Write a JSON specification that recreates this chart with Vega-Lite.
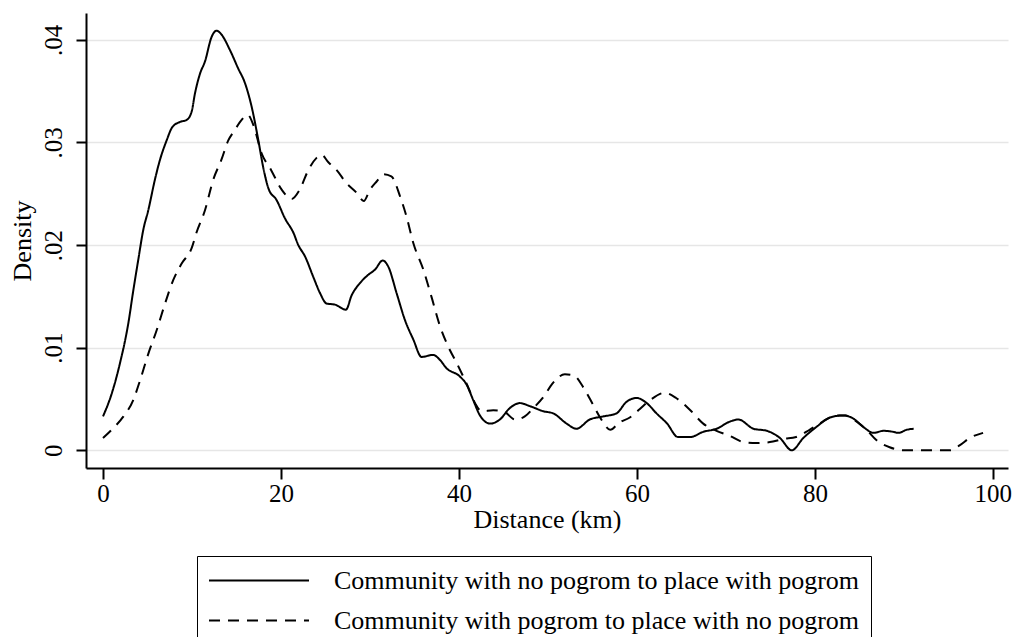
{
  "$schema": "https://vega.github.io/schema/vega-lite/v6.json",
  "width": 922,
  "height": 455,
  "autosize": {"type": "none"},
  "padding": {"left": 86, "top": 13, "right": 7, "bottom": 169},
  "background": "white",
  "config": {
    "view": {"stroke": null},
    "font": "Liberation Serif",
    "axis": {
      "labelFont": "Liberation Serif",
      "titleFont": "Liberation Serif",
      "labelColor": "black",
      "titleColor": "black",
      "titleFontWeight": "normal",
      "domainColor": "black",
      "domainWidth": 2,
      "tickColor": "black",
      "tickWidth": 2
    }
  },
  "datasets": {
    "curves": [
      {"km": 0, "density": 0.0033, "series": "Community with no pogrom to place with pogrom"},
      {"km": 0.97, "density": 0.0055, "series": "Community with no pogrom to place with pogrom"},
      {"km": 1.91, "density": 0.0085, "series": "Community with no pogrom to place with pogrom"},
      {"km": 2.85, "density": 0.0124, "series": "Community with no pogrom to place with pogrom"},
      {"km": 3.41, "density": 0.0156, "series": "Community with no pogrom to place with pogrom"},
      {"km": 3.97, "density": 0.0186, "series": "Community with no pogrom to place with pogrom"},
      {"km": 4.53, "density": 0.0215, "series": "Community with no pogrom to place with pogrom"},
      {"km": 5.09, "density": 0.0234, "series": "Community with no pogrom to place with pogrom"},
      {"km": 5.84, "density": 0.0264, "series": "Community with no pogrom to place with pogrom"},
      {"km": 6.4, "density": 0.0283, "series": "Community with no pogrom to place with pogrom"},
      {"km": 7.15, "density": 0.0302, "series": "Community with no pogrom to place with pogrom"},
      {"km": 7.79, "density": 0.0315, "series": "Community with no pogrom to place with pogrom"},
      {"km": 8.65, "density": 0.032, "series": "Community with no pogrom to place with pogrom"},
      {"km": 9.4, "density": 0.0322, "series": "Community with no pogrom to place with pogrom"},
      {"km": 9.96, "density": 0.033, "series": "Community with no pogrom to place with pogrom"},
      {"km": 10.34, "density": 0.0348, "series": "Community with no pogrom to place with pogrom"},
      {"km": 10.9, "density": 0.0367, "series": "Community with no pogrom to place with pogrom"},
      {"km": 11.46, "density": 0.0379, "series": "Community with no pogrom to place with pogrom"},
      {"km": 12.21, "density": 0.0403, "series": "Community with no pogrom to place with pogrom"},
      {"km": 12.77, "density": 0.0409, "series": "Community with no pogrom to place with pogrom"},
      {"km": 13.33, "density": 0.0405, "series": "Community with no pogrom to place with pogrom"},
      {"km": 14.27, "density": 0.039, "series": "Community with no pogrom to place with pogrom"},
      {"km": 15.2, "density": 0.0372, "series": "Community with no pogrom to place with pogrom"},
      {"km": 15.95, "density": 0.0358, "series": "Community with no pogrom to place with pogrom"},
      {"km": 16.7, "density": 0.0335, "series": "Community with no pogrom to place with pogrom"},
      {"km": 17.46, "density": 0.0302, "series": "Community with no pogrom to place with pogrom"},
      {"km": 18.0, "density": 0.0276, "series": "Community with no pogrom to place with pogrom"},
      {"km": 18.6, "density": 0.0255, "series": "Community with no pogrom to place with pogrom"},
      {"km": 19.5, "density": 0.0244, "series": "Community with no pogrom to place with pogrom"},
      {"km": 20.45, "density": 0.0226, "series": "Community with no pogrom to place with pogrom"},
      {"km": 21.4, "density": 0.0212, "series": "Community with no pogrom to place with pogrom"},
      {"km": 21.95, "density": 0.02, "series": "Community with no pogrom to place with pogrom"},
      {"km": 22.7, "density": 0.0189, "series": "Community with no pogrom to place with pogrom"},
      {"km": 23.63, "density": 0.0169, "series": "Community with no pogrom to place with pogrom"},
      {"km": 24.4, "density": 0.0153, "series": "Community with no pogrom to place with pogrom"},
      {"km": 25.13, "density": 0.0143, "series": "Community with no pogrom to place with pogrom"},
      {"km": 26.07, "density": 0.0142, "series": "Community with no pogrom to place with pogrom"},
      {"km": 27.3, "density": 0.0137, "series": "Community with no pogrom to place with pogrom"},
      {"km": 27.94, "density": 0.0151, "series": "Community with no pogrom to place with pogrom"},
      {"km": 28.88, "density": 0.0163, "series": "Community with no pogrom to place with pogrom"},
      {"km": 29.8, "density": 0.0171, "series": "Community with no pogrom to place with pogrom"},
      {"km": 30.56, "density": 0.0176, "series": "Community with no pogrom to place with pogrom"},
      {"km": 31.43, "density": 0.0185, "series": "Community with no pogrom to place with pogrom"},
      {"km": 32.06, "density": 0.0179, "series": "Community with no pogrom to place with pogrom"},
      {"km": 33.0, "density": 0.0153, "series": "Community with no pogrom to place with pogrom"},
      {"km": 33.93, "density": 0.0127, "series": "Community with no pogrom to place with pogrom"},
      {"km": 34.87, "density": 0.0108, "series": "Community with no pogrom to place with pogrom"},
      {"km": 35.8, "density": 0.0091, "series": "Community with no pogrom to place with pogrom"},
      {"km": 37.1, "density": 0.0093, "series": "Community with no pogrom to place with pogrom"},
      {"km": 37.87, "density": 0.0088, "series": "Community with no pogrom to place with pogrom"},
      {"km": 38.6, "density": 0.008, "series": "Community with no pogrom to place with pogrom"},
      {"km": 40.1, "density": 0.0072, "series": "Community with no pogrom to place with pogrom"},
      {"km": 40.86, "density": 0.0064, "series": "Community with no pogrom to place with pogrom"},
      {"km": 41.6, "density": 0.0049, "series": "Community with no pogrom to place with pogrom"},
      {"km": 42.36, "density": 0.0034, "series": "Community with no pogrom to place with pogrom"},
      {"km": 43.5, "density": 0.0026, "series": "Community with no pogrom to place with pogrom"},
      {"km": 44.6, "density": 0.003, "series": "Community with no pogrom to place with pogrom"},
      {"km": 45.7, "density": 0.0041, "series": "Community with no pogrom to place with pogrom"},
      {"km": 46.85, "density": 0.0046, "series": "Community with no pogrom to place with pogrom"},
      {"km": 48.0, "density": 0.0043, "series": "Community with no pogrom to place with pogrom"},
      {"km": 49.5, "density": 0.0038, "series": "Community with no pogrom to place with pogrom"},
      {"km": 50.6, "density": 0.0036, "series": "Community with no pogrom to place with pogrom"},
      {"km": 52.1, "density": 0.0026, "series": "Community with no pogrom to place with pogrom"},
      {"km": 53.2, "density": 0.0021, "series": "Community with no pogrom to place with pogrom"},
      {"km": 54.7, "density": 0.003, "series": "Community with no pogrom to place with pogrom"},
      {"km": 56.2, "density": 0.0033, "series": "Community with no pogrom to place with pogrom"},
      {"km": 57.7, "density": 0.0036, "series": "Community with no pogrom to place with pogrom"},
      {"km": 58.8, "density": 0.0047, "series": "Community with no pogrom to place with pogrom"},
      {"km": 59.97, "density": 0.0051, "series": "Community with no pogrom to place with pogrom"},
      {"km": 61.1, "density": 0.0046, "series": "Community with no pogrom to place with pogrom"},
      {"km": 62.2, "density": 0.0036, "series": "Community with no pogrom to place with pogrom"},
      {"km": 63.4, "density": 0.0026, "series": "Community with no pogrom to place with pogrom"},
      {"km": 64.6, "density": 0.0013, "series": "Community with no pogrom to place with pogrom"},
      {"km": 66.0, "density": 0.0013, "series": "Community with no pogrom to place with pogrom"},
      {"km": 67.45, "density": 0.0018, "series": "Community with no pogrom to place with pogrom"},
      {"km": 68.95, "density": 0.0021, "series": "Community with no pogrom to place with pogrom"},
      {"km": 70.45, "density": 0.0028, "series": "Community with no pogrom to place with pogrom"},
      {"km": 71.4, "density": 0.003, "series": "Community with no pogrom to place with pogrom"},
      {"km": 73.1, "density": 0.0021, "series": "Community with no pogrom to place with pogrom"},
      {"km": 74.6, "density": 0.0019, "series": "Community with no pogrom to place with pogrom"},
      {"km": 76.07, "density": 0.0012, "series": "Community with no pogrom to place with pogrom"},
      {"km": 77.4, "density": 0.0, "series": "Community with no pogrom to place with pogrom"},
      {"km": 78.7, "density": 0.0012, "series": "Community with no pogrom to place with pogrom"},
      {"km": 80.2, "density": 0.0023, "series": "Community with no pogrom to place with pogrom"},
      {"km": 81.7, "density": 0.0032, "series": "Community with no pogrom to place with pogrom"},
      {"km": 83.2, "density": 0.0034, "series": "Community with no pogrom to place with pogrom"},
      {"km": 84.3, "density": 0.0031, "series": "Community with no pogrom to place with pogrom"},
      {"km": 85.4, "density": 0.0023, "series": "Community with no pogrom to place with pogrom"},
      {"km": 86.6, "density": 0.0017, "series": "Community with no pogrom to place with pogrom"},
      {"km": 87.7, "density": 0.0019, "series": "Community with no pogrom to place with pogrom"},
      {"km": 88.8, "density": 0.0018, "series": "Community with no pogrom to place with pogrom"},
      {"km": 89.4, "density": 0.0017, "series": "Community with no pogrom to place with pogrom"},
      {"km": 90.3, "density": 0.002, "series": "Community with no pogrom to place with pogrom"},
      {"km": 91.1, "density": 0.0021, "series": "Community with no pogrom to place with pogrom"},
      {"km": 0, "density": 0.0012, "series": "Community with pogrom to place with no pogrom"},
      {"km": 0.97, "density": 0.002, "series": "Community with pogrom to place with no pogrom"},
      {"km": 2.3, "density": 0.0033, "series": "Community with pogrom to place with no pogrom"},
      {"km": 3.4, "density": 0.0049, "series": "Community with pogrom to place with no pogrom"},
      {"km": 4.16, "density": 0.0068, "series": "Community with pogrom to place with no pogrom"},
      {"km": 5.09, "density": 0.0094, "series": "Community with pogrom to place with no pogrom"},
      {"km": 6.03, "density": 0.0117, "series": "Community with pogrom to place with no pogrom"},
      {"km": 6.97, "density": 0.0143, "series": "Community with pogrom to place with no pogrom"},
      {"km": 7.9, "density": 0.0166, "series": "Community with pogrom to place with no pogrom"},
      {"km": 8.84, "density": 0.0182, "series": "Community with pogrom to place with no pogrom"},
      {"km": 9.96, "density": 0.0197, "series": "Community with pogrom to place with no pogrom"},
      {"km": 10.5, "density": 0.0212, "series": "Community with pogrom to place with no pogrom"},
      {"km": 11.46, "density": 0.0234, "series": "Community with pogrom to place with no pogrom"},
      {"km": 12.4, "density": 0.0264, "series": "Community with pogrom to place with no pogrom"},
      {"km": 13.3, "density": 0.0283, "series": "Community with pogrom to place with no pogrom"},
      {"km": 14.08, "density": 0.0302, "series": "Community with pogrom to place with no pogrom"},
      {"km": 14.8, "density": 0.0312, "series": "Community with pogrom to place with no pogrom"},
      {"km": 15.58, "density": 0.0322, "series": "Community with pogrom to place with no pogrom"},
      {"km": 16.25, "density": 0.0327, "series": "Community with pogrom to place with no pogrom"},
      {"km": 16.9, "density": 0.0317, "series": "Community with pogrom to place with no pogrom"},
      {"km": 17.8, "density": 0.029, "series": "Community with pogrom to place with no pogrom"},
      {"km": 18.9, "density": 0.0273, "series": "Community with pogrom to place with no pogrom"},
      {"km": 20.08, "density": 0.0254, "series": "Community with pogrom to place with no pogrom"},
      {"km": 21.2, "density": 0.0245, "series": "Community with pogrom to place with no pogrom"},
      {"km": 22.1, "density": 0.0254, "series": "Community with pogrom to place with no pogrom"},
      {"km": 23.07, "density": 0.0273, "series": "Community with pogrom to place with no pogrom"},
      {"km": 24.0, "density": 0.0285, "series": "Community with pogrom to place with no pogrom"},
      {"km": 24.57, "density": 0.0288, "series": "Community with pogrom to place with no pogrom"},
      {"km": 25.3, "density": 0.0281, "series": "Community with pogrom to place with no pogrom"},
      {"km": 26.26, "density": 0.0273, "series": "Community with pogrom to place with no pogrom"},
      {"km": 27.4, "density": 0.026, "series": "Community with pogrom to place with no pogrom"},
      {"km": 28.5, "density": 0.0251, "series": "Community with pogrom to place with no pogrom"},
      {"km": 29.3, "density": 0.0243, "series": "Community with pogrom to place with no pogrom"},
      {"km": 30.0, "density": 0.0254, "series": "Community with pogrom to place with no pogrom"},
      {"km": 30.75, "density": 0.0262, "series": "Community with pogrom to place with no pogrom"},
      {"km": 31.5, "density": 0.0269, "series": "Community with pogrom to place with no pogrom"},
      {"km": 32.4, "density": 0.0267, "series": "Community with pogrom to place with no pogrom"},
      {"km": 33.4, "density": 0.0247, "series": "Community with pogrom to place with no pogrom"},
      {"km": 34.1, "density": 0.0228, "series": "Community with pogrom to place with no pogrom"},
      {"km": 34.87, "density": 0.0202, "series": "Community with pogrom to place with no pogrom"},
      {"km": 36.0, "density": 0.0176, "series": "Community with pogrom to place with no pogrom"},
      {"km": 36.9, "density": 0.015, "series": "Community with pogrom to place with no pogrom"},
      {"km": 37.87, "density": 0.0121, "series": "Community with pogrom to place with no pogrom"},
      {"km": 38.8, "density": 0.0101, "series": "Community with pogrom to place with no pogrom"},
      {"km": 39.75, "density": 0.0085, "series": "Community with pogrom to place with no pogrom"},
      {"km": 40.86, "density": 0.0065, "series": "Community with pogrom to place with no pogrom"},
      {"km": 42.0, "density": 0.0043, "series": "Community with pogrom to place with no pogrom"},
      {"km": 42.55, "density": 0.0038, "series": "Community with pogrom to place with no pogrom"},
      {"km": 43.85, "density": 0.0039, "series": "Community with pogrom to place with no pogrom"},
      {"km": 45.0, "density": 0.0038, "series": "Community with pogrom to place with no pogrom"},
      {"km": 46.3, "density": 0.003, "series": "Community with pogrom to place with no pogrom"},
      {"km": 47.4, "density": 0.0033, "series": "Community with pogrom to place with no pogrom"},
      {"km": 48.35, "density": 0.0041, "series": "Community with pogrom to place with no pogrom"},
      {"km": 49.5, "density": 0.0052, "series": "Community with pogrom to place with no pogrom"},
      {"km": 50.5, "density": 0.0065, "series": "Community with pogrom to place with no pogrom"},
      {"km": 51.9, "density": 0.0074, "series": "Community with pogrom to place with no pogrom"},
      {"km": 52.9, "density": 0.0073, "series": "Community with pogrom to place with no pogrom"},
      {"km": 54.0, "density": 0.0061, "series": "Community with pogrom to place with no pogrom"},
      {"km": 55.1, "density": 0.0044, "series": "Community with pogrom to place with no pogrom"},
      {"km": 56.0, "density": 0.003, "series": "Community with pogrom to place with no pogrom"},
      {"km": 57.0, "density": 0.002, "series": "Community with pogrom to place with no pogrom"},
      {"km": 58.0, "density": 0.0027, "series": "Community with pogrom to place with no pogrom"},
      {"km": 59.2, "density": 0.0032, "series": "Community with pogrom to place with no pogrom"},
      {"km": 60.3, "density": 0.004, "series": "Community with pogrom to place with no pogrom"},
      {"km": 61.5, "density": 0.0049, "series": "Community with pogrom to place with no pogrom"},
      {"km": 63.1, "density": 0.0056, "series": "Community with pogrom to place with no pogrom"},
      {"km": 64.4, "density": 0.0051, "series": "Community with pogrom to place with no pogrom"},
      {"km": 66.0, "density": 0.0039, "series": "Community with pogrom to place with no pogrom"},
      {"km": 67.45, "density": 0.0026, "series": "Community with pogrom to place with no pogrom"},
      {"km": 68.95, "density": 0.0019, "series": "Community with pogrom to place with no pogrom"},
      {"km": 70.45, "density": 0.0014, "series": "Community with pogrom to place with no pogrom"},
      {"km": 71.95, "density": 0.0008, "series": "Community with pogrom to place with no pogrom"},
      {"km": 73.45, "density": 0.0007, "series": "Community with pogrom to place with no pogrom"},
      {"km": 74.94, "density": 0.0008, "series": "Community with pogrom to place with no pogrom"},
      {"km": 76.44, "density": 0.0011, "series": "Community with pogrom to place with no pogrom"},
      {"km": 77.9, "density": 0.0013, "series": "Community with pogrom to place with no pogrom"},
      {"km": 79.4, "density": 0.002, "series": "Community with pogrom to place with no pogrom"},
      {"km": 80.9, "density": 0.0028, "series": "Community with pogrom to place with no pogrom"},
      {"km": 82.4, "density": 0.0034, "series": "Community with pogrom to place with no pogrom"},
      {"km": 83.4, "density": 0.0034, "series": "Community with pogrom to place with no pogrom"},
      {"km": 84.7, "density": 0.0028, "series": "Community with pogrom to place with no pogrom"},
      {"km": 85.8, "density": 0.002, "series": "Community with pogrom to place with no pogrom"},
      {"km": 86.9, "density": 0.001, "series": "Community with pogrom to place with no pogrom"},
      {"km": 88.4, "density": 0.0003, "series": "Community with pogrom to place with no pogrom"},
      {"km": 89.9, "density": 0.0, "series": "Community with pogrom to place with no pogrom"},
      {"km": 92.9, "density": 0.0, "series": "Community with pogrom to place with no pogrom"},
      {"km": 95.2, "density": 0.0, "series": "Community with pogrom to place with no pogrom"},
      {"km": 96.3, "density": 0.0005, "series": "Community with pogrom to place with no pogrom"},
      {"km": 97.4, "density": 0.0012, "series": "Community with pogrom to place with no pogrom"},
      {"km": 98.9, "density": 0.0017, "series": "Community with pogrom to place with no pogrom"}
    ]
  },
  "data": {"name": "curves"},
  "mark": {"type": "line", "color": "black", "strokeWidth": 2, "interpolate": "monotone"},
  "encoding": {
    "x": {
      "field": "km",
      "type": "quantitative",
      "scale": {"domain": [-1.91, 101.7], "nice": false, "zero": false},
      "axis": {
        "values": [0, 20, 40, 60, 80, 100],
        "title": "Distance (km)",
        "grid": false,
        "tickSize": 11,
        "labelPadding": 2,
        "labelFontSize": 25,
        "titleFontSize": 26,
        "titlePadding": 0
      }
    },
    "y": {
      "field": "density",
      "type": "quantitative",
      "scale": {"domain": [-0.001725, 0.04262], "nice": false, "zero": false},
      "axis": {
        "values": [0, 0.01, 0.02, 0.03, 0.04],
        "title": "Density",
        "labelExpr": "datum.value === 0 ? '0' : '.0' + format(datum.value * 100, 'd')",
        "labelAngle": -90,
        "labelAlign": "center",
        "labelBaseline": "bottom",
        "labelPadding": 10,
        "tickSize": 10,
        "grid": true,
        "gridColor": "#e6e6e6",
        "gridWidth": 1.5,
        "labelFontSize": 25,
        "titleFontSize": 26,
        "titlePadding": 6
      }
    },
    "strokeDash": {
      "field": "series",
      "type": "nominal",
      "scale": {
        "domain": ["Community with no pogrom to place with pogrom", "Community with pogrom to place with no pogrom"],
        "range": [[1, 0], [11, 8]]
      },
      "legend": {
        "title": null,
        "orient": "none",
        "legendX": 111,
        "legendY": 543,
        "direction": "vertical",
        "symbolType": "M-1,0H7",
        "symbolSize": 625,
        "symbolStrokeWidth": 2,
        "symbolStrokeColor": "black",
        "labelFont": "Liberation Serif",
        "labelFontSize": 26,
        "labelColor": "black",
        "labelLimit": 1000,
        "labelOffset": 99,
        "padding": 11,
        "rowPadding": 13,
        "strokeColor": "black",
        "fillColor": "white",
        "cornerRadius": 0
      }
    }
  }
}
